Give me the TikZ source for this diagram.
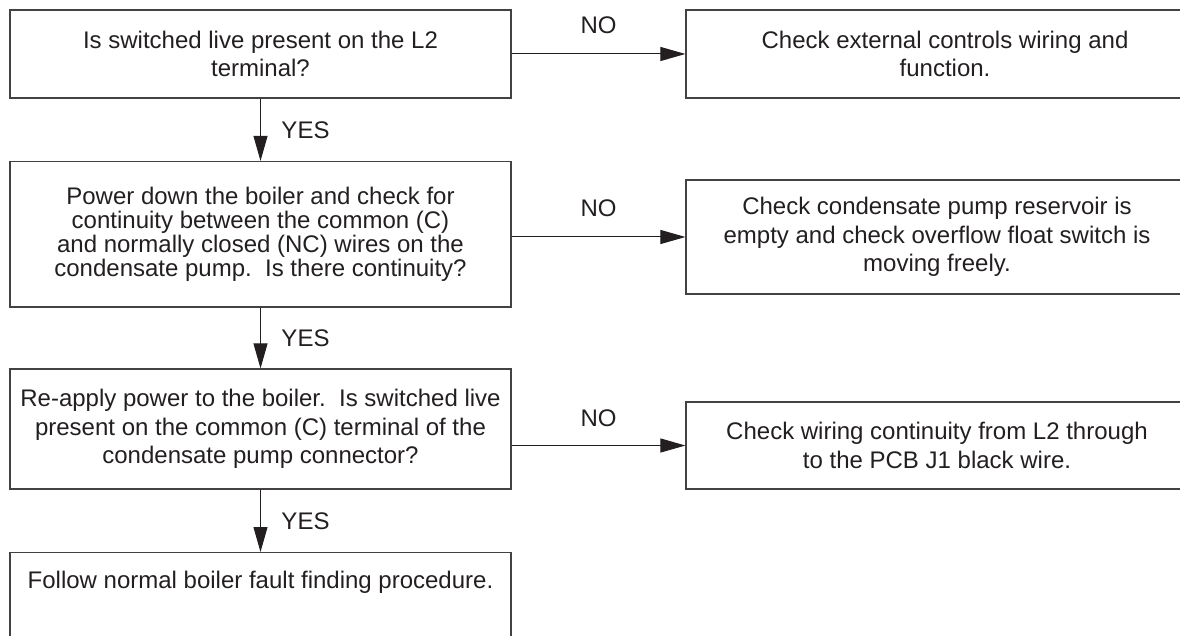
\documentclass[tikz,border=0pt]{standalone}
\usepackage{fontspec}
\setmainfont{Liberation Sans}
\usetikzlibrary{arrows.meta}
\definecolor{ink}{HTML}{231F20}
\begin{document}
\begin{tikzpicture}[x=1pt,y=-1pt,
  box/.style={draw=ink!85, line width=1.2pt, rectangle, inner sep=0pt, align=center,
    font=\fontsize{24}{28.5}\selectfont, text=ink},
  flow/.style={draw=ink, line width=1pt, -{Triangle[length=25pt,width=14pt]}},
  lbl/.style={font=\fontsize{24}{28.5}\selectfont, text=ink, inner sep=0pt}]
\clip (0,0) rectangle (1180,636);
% left column
\node[box, minimum width=501, minimum height=88] (b1) at (260.5,54)
  {Is switched live present on the L2\\terminal?};
\node[box, minimum width=501, minimum height=145.5, font=\fontsize{24}{23.7}\selectfont] (b2) at (260.5,234.25)
  {Power down the boiler and check for\\continuity between the common (C)\\and normally closed (NC) wires on the\\condensate pump.\ \ Is there continuity?};
\node[box, minimum width=501, minimum height=120] (b3) at (260.5,429)
  {Re-apply power to the boiler.\ \ Is switched live\\present on the common (C) terminal of the\\condensate pump connector?};
\node[box, minimum width=501, anchor=north, text height=35.6pt, text depth=150pt] (b4) at (260.5,552)
  {Follow normal boiler fault finding procedure.};
% right column
\node[box, minimum width=518, minimum height=88] (r1) at (945,54)
  {Check external controls wiring and\\function.};
\node[box, minimum width=502, minimum height=114] (r2) at (937,237)
  {Check condensate pump reservoir is\\empty and check overflow float switch is\\moving freely.};
\node[box, minimum width=502, minimum height=87] (r3) at (937,445.5)
  {Check wiring continuity from L2 through\\to the PCB J1 black wire.};
% connectors
\draw[flow] (b1.south) -- (b2.north) node[lbl, midway, xshift=45pt] {YES};
\draw[flow] (b2.south) -- (b3.north) node[lbl, midway, xshift=45pt] {YES};
\draw[flow] (b3.south) -- (b4.north) node[lbl, midway, xshift=45pt] {YES};
\draw[flow] (b1.east |- r1.west) -- (r1.west) node[lbl, midway, yshift=29pt] {NO};
\draw[flow] (b2.east |- r2.west) -- (r2.west) node[lbl, midway, yshift=29pt] {NO};
\draw[flow] (b3.east |- r3.west) -- (r3.west) node[lbl, midway, yshift=27pt] {NO};
\end{tikzpicture}
\end{document}
